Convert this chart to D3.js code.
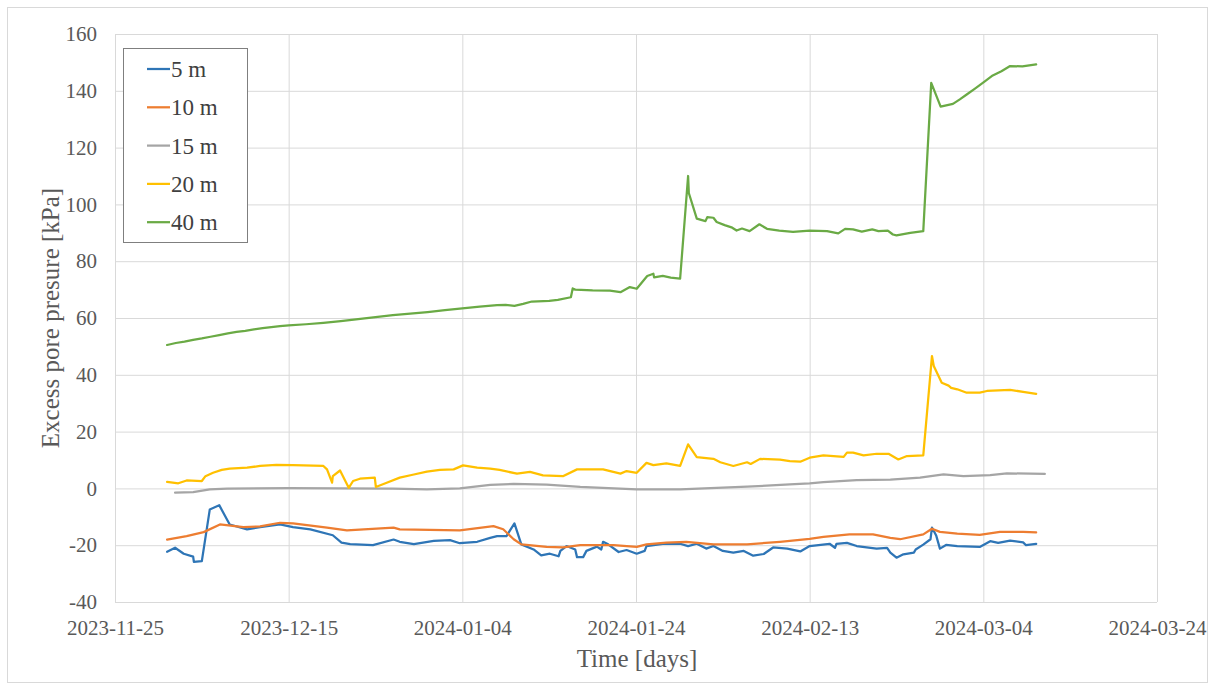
<!DOCTYPE html>
<html>
<head>
<meta charset="utf-8">
<script src="https://cdn.jsdelivr.net/npm/d3@7"></script>
<style>
  html, body { margin: 0; padding: 0; background: #ffffff; }
  svg { display: block; }
  text { font-family: "Liberation Serif", "Times New Roman", "DejaVu Serif", serif; }
</style>
</head>
<body>
<svg id="chart" width="1215" height="684"></svg>
<script>
// ---------------- DATA ----------------
const seriesNames = ["5 m", "10 m", "15 m", "20 m", "40 m"];
const seriesColors = ["#2E75B6", "#ED7D31", "#A5A5A5", "#FFC000", "#6AAA45"];

const xTickLabels = ["2023-11-25", "2023-12-15", "2024-01-04", "2024-01-24", "2024-02-13", "2024-03-04", "2024-03-24"];
const yTickLabels = [-40, -20, 0, 20, 40, 60, 80, 100, 120, 140, 160];

const series5m = [
  ["2023-12-01T00", -22.3], ["2023-12-01T22", -20.9], ["2023-12-02T22", -23.0], ["2023-12-04T00", -24.0],
  ["2023-12-04T02", -25.9], ["2023-12-05T00", -25.6], ["2023-12-05T22", -7.4], ["2023-12-07T00", -5.9],
  ["2023-12-08T05", -12.7], ["2023-12-10T05", -14.4], ["2023-12-11T17", -13.6], ["2023-12-14T00", -12.7],
  ["2023-12-15T12", -13.6], ["2023-12-17T12", -14.4], ["2023-12-20T02", -16.5], ["2023-12-21T02", -19.1],
  ["2023-12-22T02", -19.6], ["2023-12-24T17", -20.0], ["2023-12-27T02", -18.0], ["2023-12-27T19", -18.8],
  ["2023-12-29T10", -19.6], ["2023-12-31T17", -18.5], ["2024-01-02T14", -18.2], ["2024-01-03T17", -19.3],
  ["2024-01-05T17", -18.8], ["2024-01-07T05", -17.4], ["2024-01-08T00", -16.8], ["2024-01-09T02", -16.8],
  ["2024-01-10T00", -12.3], ["2024-01-10T19", -19.7], ["2024-01-12T05", -21.5], ["2024-01-13T02", -23.6],
  ["2024-01-14T02", -23.0], ["2024-01-15T02", -23.9], ["2024-01-15T07", -22.0], ["2024-01-16T00", -20.3],
  ["2024-01-17T00", -21.5], ["2024-01-17T05", -24.2], ["2024-01-17T22", -24.2], ["2024-01-18T07", -22.0],
  ["2024-01-19T12", -20.5], ["2024-01-20T00", -21.5], ["2024-01-20T05", -18.8], ["2024-01-20T19", -19.7],
  ["2024-01-22T00", -22.4], ["2024-01-22T22", -21.7], ["2024-01-24T02", -23.0], ["2024-01-25T00", -22.0],
  ["2024-01-25T05", -20.3], ["2024-01-27T02", -19.5], ["2024-01-29T02", -19.5], ["2024-01-30T00", -20.3],
  ["2024-01-31T00", -19.5], ["2024-02-01T02", -21.2], ["2024-02-01T22", -20.3], ["2024-02-03T00", -22.0],
  ["2024-02-04T05", -22.6], ["2024-02-05T10", -22.0], ["2024-02-06T12", -23.7], ["2024-02-07T17", -23.1],
  ["2024-02-08T19", -20.8], ["2024-02-10T10", -21.2], ["2024-02-11T22", -22.2], ["2024-02-13T00", -20.3],
  ["2024-02-15T07", -19.5], ["2024-02-15T22", -20.9], ["2024-02-16T02", -19.5], ["2024-02-17T07", -19.2],
  ["2024-02-18T10", -20.3], ["2024-02-20T17", -21.2], ["2024-02-21T22", -20.9], ["2024-02-22T07", -22.6],
  ["2024-02-23T00", -24.4], ["2024-02-23T19", -23.2], ["2024-02-25T00", -22.6], ["2024-02-25T05", -21.5],
  ["2024-02-26T02", -19.8], ["2024-02-26T22", -17.9], ["2024-02-27T02", -13.8], ["2024-02-27T14", -16.7],
  ["2024-02-28T00", -21.2], ["2024-02-28T17", -19.9], ["2024-03-01T00", -20.3], ["2024-03-03T14", -20.6],
  ["2024-03-04T19", -18.6], ["2024-03-05T17", -19.2], ["2024-03-07T02", -18.4], ["2024-03-08T14", -19.0],
  ["2024-03-08T22", -20.0], ["2024-03-10T02", -19.5]
];

const series10m = [
  ["2023-12-01T00", -18.0], ["2023-12-03T06", -16.8], ["2023-12-05T05", -15.4], ["2023-12-07T02", -12.7],
  ["2023-12-09T19", -13.6], ["2023-12-11T17", -13.4], ["2023-12-14T00", -12.1], ["2023-12-15T12", -12.3],
  ["2023-12-19T10", -13.8], ["2023-12-21T17", -14.8], ["2023-12-27T02", -13.8], ["2023-12-27T19", -14.4],
  ["2024-01-03T17", -14.8], ["2024-01-07T14", -13.3], ["2024-01-08T17", -14.4], ["2024-01-09T22", -17.9],
  ["2024-01-10T19", -19.7], ["2024-01-13T17", -20.6], ["2024-01-15T14", -20.8], ["2024-01-17T14", -20.0],
  ["2024-01-21T10", -20.0], ["2024-01-24T02", -20.6], ["2024-01-25T05", -19.7], ["2024-01-27T12", -19.1],
  ["2024-01-29T19", -18.8], ["2024-02-01T22", -19.7], ["2024-02-05T19", -19.7], ["2024-02-09T14", -18.8],
  ["2024-02-13T00", -17.8], ["2024-02-14T14", -17.1], ["2024-02-17T14", -16.2], ["2024-02-20T07", -16.2],
  ["2024-02-22T07", -17.4], ["2024-02-23T10", -17.9], ["2024-02-26T02", -16.2], ["2024-02-27T02", -14.2],
  ["2024-02-28T00", -15.3], ["2024-03-01T00", -15.9], ["2024-03-03T14", -16.4], ["2024-03-05T22", -15.3],
  ["2024-03-08T14", -15.3], ["2024-03-10T02", -15.5]
];

const series15m = [
  ["2023-12-01T22", -1.5], ["2023-12-04T00", -1.3], ["2023-12-05T22", -0.35], ["2023-12-07T22", -0.1],
  ["2023-12-15T00", 0.1], ["2023-12-27T00", -0.1], ["2023-12-30T22", -0.35], ["2024-01-03T17", 0.0],
  ["2024-01-07T05", 1.2], ["2024-01-09T22", 1.6], ["2024-01-13T17", 1.3], ["2024-01-17T14", 0.5],
  ["2024-01-24T02", -0.35], ["2024-01-29T02", -0.35], ["2024-02-05T19", 0.6], ["2024-02-10T17", 1.4],
  ["2024-02-13T00", 1.8], ["2024-02-14T14", 2.2], ["2024-02-18T10", 2.9], ["2024-02-22T07", 3.1],
  ["2024-02-25T17", 3.8], ["2024-02-28T10", 4.9], ["2024-03-01T17", 4.3], ["2024-03-04T19", 4.7],
  ["2024-03-06T17", 5.3], ["2024-03-11T02", 5.1]
];

const series20m = [
  ["2023-12-01T00", 2.3], ["2023-12-02T07", 1.8], ["2023-12-03T06", 2.8], ["2023-12-05T00", 2.6],
  ["2023-12-05T10", 4.3], ["2023-12-06T07", 5.5], ["2023-12-07T07", 6.5], ["2023-12-08T05", 7.0],
  ["2023-12-10T05", 7.3], ["2023-12-11T17", 7.9], ["2023-12-13T14", 8.3], ["2023-12-15T12", 8.2],
  ["2023-12-19T00", 7.9], ["2023-12-19T10", 6.7], ["2023-12-20T00", 2.0], ["2023-12-20T02", 4.3],
  ["2023-12-20T22", 6.3], ["2023-12-21T22", 0.2], ["2023-12-22T10", 2.6], ["2023-12-23T05", 3.4],
  ["2023-12-24T22", 3.8], ["2023-12-25T01", 0.5], ["2023-12-26T07", 2.0], ["2023-12-27T19", 3.8],
  ["2023-12-29T10", 4.9], ["2023-12-30T22", 5.9], ["2024-01-01T10", 6.5], ["2024-01-03T00", 6.7],
  ["2024-01-04T02", 8.1], ["2024-01-05T17", 7.3], ["2024-01-07T05", 7.0], ["2024-01-08T07", 6.5],
  ["2024-01-10T07", 5.2], ["2024-01-11T19", 5.8], ["2024-01-13T07", 4.6], ["2024-01-15T14", 4.3],
  ["2024-01-17T05", 6.7], ["2024-01-20T05", 6.7], ["2024-01-22T05", 5.2], ["2024-01-22T22", 6.1],
  ["2024-01-24T02", 5.5], ["2024-01-25T05", 9.0], ["2024-01-26T00", 8.2], ["2024-01-27T12", 8.8],
  ["2024-01-29T02", 7.9], ["2024-01-30T00", 15.5], ["2024-01-31T00", 11.0], ["2024-02-01T22", 10.4],
  ["2024-02-02T17", 9.2], ["2024-02-04T05", 7.9], ["2024-02-05T19", 9.2], ["2024-02-06T05", 8.6],
  ["2024-02-07T07", 10.4], ["2024-02-09T14", 10.1], ["2024-02-10T17", 9.6], ["2024-02-11T22", 9.4],
  ["2024-02-13T00", 10.8], ["2024-02-14T14", 11.6], ["2024-02-16T22", 11.1], ["2024-02-17T07", 12.6],
  ["2024-02-18T00", 12.6], ["2024-02-19T05", 11.6], ["2024-02-20T17", 12.2], ["2024-02-22T02", 12.2],
  ["2024-02-23T05", 10.2], ["2024-02-24T05", 11.4], ["2024-02-26T02", 11.6], ["2024-02-27T02", 46.6],
  ["2024-02-27T07", 43.1], ["2024-02-28T05", 37.2], ["2024-02-29T00", 36.2], ["2024-02-29T07", 35.4],
  ["2024-03-01T00", 34.9], ["2024-03-02T02", 33.7], ["2024-03-03T14", 33.7], ["2024-03-04T10", 34.3],
  ["2024-03-07T02", 34.7], ["2024-03-08T14", 34.0], ["2024-03-10T02", 33.3]
];

const series40m = [
  ["2023-12-01T00", 50.5], ["2023-12-02T00", 51.2], ["2023-12-03T00", 51.7], ["2023-12-04T00", 52.3],
  ["2023-12-05T00", 52.8], ["2023-12-06T00", 53.4], ["2023-12-07T00", 54.0], ["2023-12-08T00", 54.6],
  ["2023-12-09T00", 55.1], ["2023-12-10T00", 55.5], ["2023-12-11T00", 56.0], ["2023-12-12T00", 56.4],
  ["2023-12-13T00", 56.8], ["2023-12-14T00", 57.1], ["2023-12-15T00", 57.4], ["2023-12-17T00", 57.8],
  ["2023-12-19T00", 58.3], ["2023-12-21T00", 58.9], ["2023-12-23T00", 59.6], ["2023-12-25T00", 60.3],
  ["2023-12-27T00", 61.0], ["2023-12-29T00", 61.5], ["2023-12-31T00", 62.1], ["2024-01-02T00", 62.8],
  ["2024-01-04T00", 63.4], ["2024-01-06T00", 64.0], ["2024-01-08T00", 64.5], ["2024-01-09T00", 64.6],
  ["2024-01-10T00", 64.3], ["2024-01-11T00", 65.0], ["2024-01-12T00", 65.8], ["2024-01-14T00", 66.0],
  ["2024-01-15T00", 66.4], ["2024-01-16T12", 67.3], ["2024-01-16T17", 70.4], ["2024-01-17T00", 70.0],
  ["2024-01-19T00", 69.7], ["2024-01-21T00", 69.6], ["2024-01-22T05", 69.1], ["2024-01-23T07", 70.9],
  ["2024-01-24T02", 70.3], ["2024-01-25T07", 74.8], ["2024-01-26T00", 75.6], ["2024-01-26T02", 74.3],
  ["2024-01-27T02", 74.8], ["2024-01-28T00", 74.2], ["2024-01-29T02", 73.9], ["2024-01-30T00", 110.0],
  ["2024-01-30T02", 104.0], ["2024-01-31T00", 95.0], ["2024-02-01T00", 94.1], ["2024-02-01T05", 95.5],
  ["2024-02-01T22", 95.3], ["2024-02-02T07", 93.8], ["2024-02-03T05", 92.7], ["2024-02-04T02", 91.8],
  ["2024-02-04T14", 90.8], ["2024-02-05T05", 91.5], ["2024-02-06T02", 90.6], ["2024-02-07T05", 93.0],
  ["2024-02-08T02", 91.4], ["2024-02-09T12", 90.8], ["2024-02-11T02", 90.3], ["2024-02-13T00", 90.8],
  ["2024-02-15T00", 90.6], ["2024-02-16T07", 89.8], ["2024-02-17T02", 91.4], ["2024-02-18T00", 91.2],
  ["2024-02-19T00", 90.4], ["2024-02-20T05", 91.2], ["2024-02-20T22", 90.6], ["2024-02-22T00", 90.8],
  ["2024-02-22T14", 89.4], ["2024-02-23T00", 89.1], ["2024-02-24T14", 90.0], ["2024-02-26T02", 90.6],
  ["2024-02-27T00", 142.8], ["2024-02-28T02", 134.4], ["2024-02-29T12", 135.4], ["2024-03-01T07", 137.0],
  ["2024-03-02T02", 138.7], ["2024-03-03T00", 140.7], ["2024-03-04T05", 143.4], ["2024-03-05T02", 145.4],
  ["2024-03-06T02", 146.9], ["2024-03-07T02", 148.7], ["2024-03-08T12", 148.6], ["2024-03-10T02", 149.3]
];

const allSeries = [series5m, series10m, series15m, series20m, series40m];

// ---------------- CHART ----------------
const W = 1215, H = 684;
const plot = { left: 115, right: 1157, top: 34, bottom: 602 };
const serif = '"Liberation Serif", "Times New Roman", serif';
const parseT = d3.utcParse("%Y-%m-%dT%H");
const parseD = d3.utcParse("%Y-%m-%d");
const fmtD = d3.utcFormat("%Y-%m-%d");

const svg = d3.select("#chart");

// outer border
svg.append("rect")
  .attr("x", 7.5).attr("y", 7.5).attr("width", W - 15).attr("height", H - 9)
  .attr("fill", "#ffffff").attr("stroke", "#d9d9d9").attr("stroke-width", 1);

const xTicks = xTickLabels.map(parseD);
const x = d3.scaleUtc()
  .domain([xTicks[0], xTicks[xTicks.length - 1]])
  .range([plot.left, plot.right]);
const y = d3.scaleLinear()
  .domain([yTickLabels[0], yTickLabels[yTickLabels.length - 1]])
  .range([plot.bottom, plot.top]);

const labelColor = "#595959";
const gridColor = "#d9d9d9";

// Y axis + horizontal gridlines
const yAxis = svg.append("g")
  .attr("transform", `translate(${plot.left},0)`)
  .call(d3.axisLeft(y).tickValues(yTickLabels).tickSize(-(plot.right - plot.left)).tickPadding(18).tickFormat(d => String(d)));
yAxis.attr("font-family", serif).attr("font-size", 21);
yAxis.select(".domain").remove();
yAxis.selectAll(".tick line").attr("stroke", gridColor).attr("stroke-width", 1);
yAxis.selectAll(".tick text")
  .attr("fill", labelColor)
  .attr("font-family", serif)
  .style("font-family", serif)
  .style("font-size", "21px");

// X axis + vertical gridlines
const xAxis = svg.append("g")
  .attr("transform", `translate(0,${plot.bottom})`)
  .call(d3.axisBottom(x).tickValues(xTicks).tickSize(-(plot.bottom - plot.top)).tickPadding(18).tickFormat(fmtD));
xAxis.attr("font-family", serif).attr("font-size", 21);
xAxis.select(".domain").remove();
xAxis.selectAll(".tick line").attr("stroke", gridColor).attr("stroke-width", 1);
xAxis.selectAll(".tick text")
  .attr("fill", labelColor)
  .attr("font-family", serif)
  .style("font-family", serif)
  .style("font-size", "21px");

// bottom axis line
svg.append("line")
  .attr("x1", plot.left).attr("x2", plot.right)
  .attr("y1", y(yTickLabels[0]) + 0.5).attr("y2", y(yTickLabels[0]) + 0.5)
  .attr("stroke", gridColor).attr("stroke-width", 1);

// lines
const line = d3.line()
  .x(d => x(parseT(d[0])))
  .y(d => y(d[1]));

allSeries.forEach((s, i) => {
  svg.append("path")
    .datum(s)
    .attr("fill", "none")
    .attr("stroke", seriesColors[i])
    .attr("stroke-width", 2.25)
    .attr("stroke-linejoin", "round")
    .attr("stroke-linecap", "round")
    .attr("d", line);
});

// axis titles
svg.append("text")
  .attr("transform", "translate(59,318) rotate(-90)")
  .attr("text-anchor", "middle")
  .attr("fill", labelColor)
  .attr("font-family", serif)
  .style("font-size", "25px")
  .text("Excess pore presure [kPa]");

svg.append("text")
  .attr("x", 637).attr("y", 667)
  .attr("text-anchor", "middle")
  .attr("fill", labelColor)
  .attr("font-family", serif)
  .style("font-size", "25px")
  .text("Time [days]");

// legend
const legend = svg.append("g");
legend.append("rect")
  .attr("x", 123.5).attr("y", 48.5).attr("width", 124).attr("height", 194)
  .attr("fill", "#ffffff").attr("stroke", "#7f7f7f").attr("stroke-width", 1);
seriesNames.forEach((name, i) => {
  const cy = 69 + i * 38.3;
  legend.append("line")
    .attr("x1", 147).attr("x2", 170).attr("y1", cy).attr("y2", cy)
    .attr("stroke", seriesColors[i]).attr("stroke-width", 2.25);
  legend.append("text")
    .attr("x", 171).attr("y", cy + 8)
    .attr("fill", "#404040")
    .attr("font-family", serif)
    .style("font-size", "23px")
    .text(name);
});
</script>
</body>
</html>
